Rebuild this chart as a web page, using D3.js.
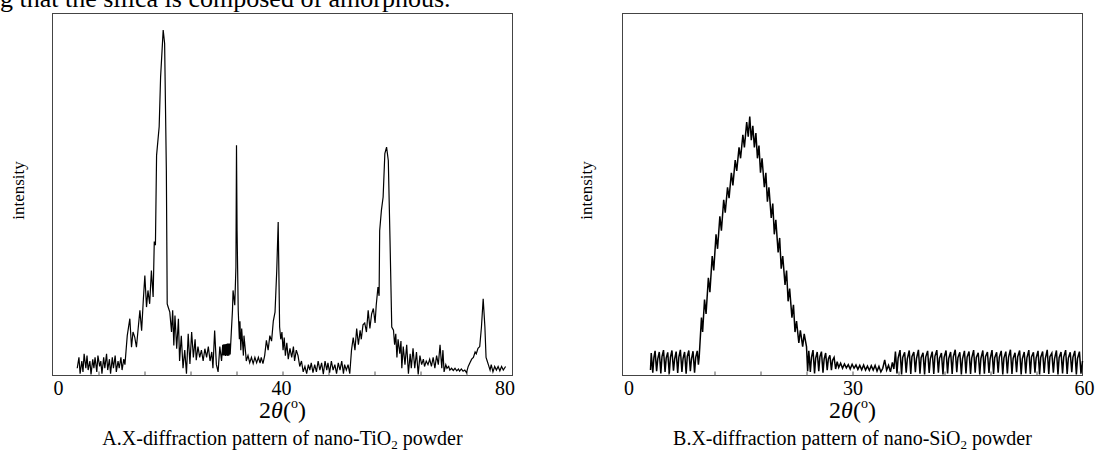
<!DOCTYPE html>
<html>
<head>
<meta charset="utf-8">
<script src="https://cdn.jsdelivr.net/npm/d3@7"></script>
<style>
  body { margin: 0; background: #fff; }
  svg { display: block; }
  text { font-family: 'Liberation Serif', 'Times New Roman', serif; fill: #000; }
</style>
</head>
<body>
<div class="graph"></div>
<script>
// 2theta (deg), intensity (arbitrary units, 0-100 = frame height)
const tio2Scan = [
  [4.3, 2], [4.6, 5], [4.8, 0.5], [5.1, 4], [5.3, 1], [5.5, 6], [5.8, 2], [6.0, 5.5],
  [6.2, 1.5], [6.5, 4], [6.7, 0.3], [7.0, 4.5], [7.2, 2], [7.4, 5], [7.7, 1], [7.9, 5.5],
  [8.2, 2.5], [8.4, 4], [8.6, 0.5], [8.9, 5], [9.1, 2], [9.4, 6], [9.6, 1.5], [9.9, 4.5],
  [10.1, 0.5], [10.4, 5], [10.6, 2], [10.9, 5.5], [11.1, 1], [11.4, 4], [11.6, 2], [11.9, 5],
  [12.1, 1.5], [12.4, 4.5], [12.6, 3], [13.0, 11], [13.45, 15.7], [13.74, 7.8], [14.0, 12],
  [14.3, 10.6], [14.6, 7.8], [14.9, 13], [15.2, 18], [15.5, 12.4], [15.8, 21], [16.06, 27.6],
  [16.35, 18.9], [16.6, 23.5], [16.9, 19.8], [17.2, 29], [17.5, 21.7], [17.7, 37], [17.9, 36],
  [18.1, 60.8], [18.55, 68.7], [18.8, 82.5], [19.25, 95.4], [19.5, 91.7], [19.8, 56.7],
  [19.95, 19.8], [20.1, 19], [20.4, 17.5], [20.7, 12], [20.9, 18], [21.1, 8.3], [21.3, 16.6],
  [21.6, 7.4], [21.9, 15.7], [22.1, 4], [22.4, 11], [22.7, 2], [23.0, 7], [23.3, 0.5],
  [23.6, 11.5], [23.9, 3.2], [24.2, 12], [24.5, 5], [24.8, 10], [25.0, 4.2], [25.3, 8],
  [25.6, 5], [25.9, 7], [26.2, 4], [26.5, 7.4], [26.8, 5], [27.1, 8], [27.4, 4], [27.7, 6.5],
  [27.9, 2], [28.2, 12.4], [28.5, 3], [28.8, 1], [29.1, 8], [29.4, 4], [29.6, 8.5], [29.7, 5.5],
  [29.8, 8.6], [29.9, 5.5], [30.0, 8.6], [30.1, 5.4], [30.2, 8.7], [30.3, 5.5], [30.4, 8.8],
  [30.5, 5.4], [30.6, 8.8], [30.7, 5.5], [30.8, 8.8], [30.9, 5.8], [31.1, 12], [31.3, 18],
  [31.4, 23.5], [31.7, 19.4], [31.9, 30], [32.0, 63.6], [32.1, 40], [32.3, 18], [32.5, 10],
  [32.6, 15], [32.75, 7], [32.9, 13], [33.2, 5.5], [33.3, 11], [33.6, 6], [33.7, 4], [34.0, 5.5],
  [34.3, 3.5], [34.6, 5], [34.9, 3.3], [35.2, 5], [35.5, 3.5], [35.8, 5], [36.1, 3.4], [36.3, 5],
  [36.6, 3.3], [36.9, 5.5], [37.2, 9.7], [37.5, 7], [37.8, 11], [38.1, 9.5], [38.4, 15],
  [38.7, 17.5], [39.0, 29], [39.25, 42.4], [39.4, 25], [39.5, 13.4], [39.7, 10], [39.9, 12],
  [40.1, 7], [40.3, 10.5], [40.5, 5.5], [40.75, 9], [41.0, 4.5], [41.3, 7.5], [41.6, 5],
  [41.9, 8], [42.1, 4], [42.4, 7], [42.7, 5.5], [43.0, 2.5], [43.3, 4], [43.6, 1], [43.9, 2.5],
  [44.2, 0.5], [44.5, 3], [44.75, 1.5], [45.0, 3.5], [45.3, 0.8], [45.6, 3], [45.9, 1],
  [46.2, 4], [46.5, 1.5], [46.8, 3.5], [47.1, 0.4], [47.4, 4], [47.7, 1.5], [47.9, 3.5],
  [48.2, 0.8], [48.5, 4], [48.8, 1.5], [49.1, 3], [49.4, 0.5], [49.7, 3.5], [50.0, 1.5],
  [50.3, 4], [50.6, 0.5], [50.8, 3], [51.1, 1.5], [51.4, 3], [51.7, 0.5], [52.0, 7],
  [52.3, 10.5], [52.6, 7], [52.9, 13], [53.2, 8.5], [53.5, 12.5], [53.7, 10], [54.0, 14],
  [54.3, 14.5], [54.6, 12], [54.9, 18], [55.2, 13], [55.5, 17], [55.8, 18.5], [56.1, 14.5],
  [56.3, 19.4], [56.6, 24.4], [56.8, 22], [56.9, 40], [57.2, 45.6], [57.5, 49.3], [57.8, 61.3],
  [58.1, 63.1], [58.4, 59.4], [58.7, 37.3], [59.0, 13.4], [59.3, 12.5], [59.5, 8.5],
  [59.7, 11.5], [59.9, 5], [60.1, 10], [60.4, 6], [60.6, 9.5], [60.75, 2], [61.0, 8], [61.3, 3],
  [61.6, 8.5], [61.9, 0.5], [62.2, 6], [62.4, 2], [62.7, 7.5], [63.0, 2], [63.3, 6.5],
  [63.6, 0.3], [63.9, 5.5], [64.2, 3], [64.5, 4.5], [64.7, 2.5], [65.0, 4], [65.3, 3],
  [65.6, 4.5], [65.9, 2.5], [66.2, 5], [66.5, 2], [66.8, 5.5], [67.1, 3], [67.4, 8.5], [67.7, 2],
  [67.9, 7], [68.1, 1], [68.4, 3], [68.6, 2], [68.9, 2.5], [69.1, 1.5], [69.4, 2], [69.7, 1.4],
  [70.0, 2], [70.3, 1.3], [70.6, 1.8], [70.8, 1.2], [71.1, 1.8], [71.4, 1.2], [71.7, 1.5],
  [72.0, 0.8], [72.3, 2.5], [72.6, 3.5], [72.9, 4.5], [73.2, 5], [73.5, 6.5], [73.7, 6],
  [74.0, 7.5], [74.3, 8], [74.6, 13.4], [74.9, 21.2], [75.2, 13.4], [75.4, 5], [75.6, 4],
  [75.8, 3], [76.1, 1.5], [76.3, 3], [76.6, 1], [76.9, 2.5], [77.2, 1.5], [77.5, 2.5],
  [77.8, 1.3], [78.1, 2.5], [78.4, 1.5], [78.8, 2.5]
]

const sio2Scan = [
  [3.65, 1.5], [3.75, 6.2], [3.95, 0.8], [4.1, 5.0], [4.25, 6.8], [4.45, 1.2], [4.6, 4.6],
  [4.8, 6.5], [5.0, 0.6], [5.15, 5.2], [5.35, 7.0], [5.55, 1.0], [5.7, 4.8], [5.9, 6.4],
  [6.1, 0.5], [6.25, 5.0], [6.45, 6.9], [6.65, 1.3], [6.8, 4.5], [7.0, 6.6], [7.2, 0.7],
  [7.35, 5.1], [7.55, 7.1], [7.75, 1.0], [7.9, 4.7], [8.1, 6.5], [8.3, 0.5], [8.45, 5.3],
  [8.65, 6.9], [8.85, 1.2], [9.0, 4.6], [9.2, 6.7], [9.4, 0.8], [9.55, 5.0], [9.75, 6.8],
  [9.9, 3.0], [10.0, 5], [10.3, 16], [10.45, 12], [10.7, 21], [10.9, 17], [11.2, 27],
  [11.4, 23], [11.7, 33], [11.9, 29], [12.2, 39], [12.4, 35], [12.7, 44], [12.9, 40],
  [13.2, 48.5], [13.4, 45], [13.7, 52], [13.9, 49], [14.2, 56], [14.4, 52.5], [14.7, 59.5],
  [14.9, 56.5], [15.2, 63], [15.4, 60], [15.7, 66.5], [15.9, 63], [16.2, 70], [16.4, 66],
  [16.6, 71.5], [16.8, 65], [17.0, 69], [17.2, 63], [17.4, 67], [17.6, 60], [17.8, 63.5],
  [18.0, 56], [18.2, 60], [18.5, 52], [18.7, 56], [18.9, 48], [19.1, 52], [19.4, 43.5],
  [19.6, 47.5], [19.8, 39], [20.0, 43], [20.3, 34], [20.5, 38], [20.7, 29.5], [20.9, 33],
  [21.2, 25], [21.4, 29], [21.6, 20.5], [21.8, 24], [22.1, 16], [22.3, 19.5], [22.5, 12],
  [22.7, 15], [23.0, 9], [23.2, 12.5], [23.5, 8], [23.7, 11.5], [24.0, 8], [24.15, 1.2],
  [24.3, 6.8], [24.5, 1.0], [24.65, 5.0], [24.85, 7.0], [25.05, 0.6], [25.2, 4.8], [25.4, 6.5],
  [25.6, 1.2], [25.75, 5.2], [25.95, 6.6], [26.15, 0.8], [26.3, 4.5], [26.5, 6.2], [26.7, 1.5],
  [26.85, 4.6], [27.05, 5.6], [27.25, 1.5], [27.4, 4.2], [27.6, 5.0], [27.8, 1.8], [28.0, 3.8],
  [28.2, 2.2], [28.45, 3.4], [28.7, 2.0], [28.95, 3.2], [29.2, 2.1], [29.45, 3.0], [29.7, 1.8],
  [29.95, 3.1], [30.2, 2.0], [30.45, 2.9], [30.7, 1.7], [30.95, 2.8], [31.2, 1.6], [31.45, 2.9],
  [31.7, 1.5], [31.95, 2.6], [32.2, 1.4], [32.45, 2.7], [32.7, 1.5], [32.95, 2.8], [33.2, 1.2],
  [33.45, 2.5], [33.7, 1.0], [33.95, 2.0], [34.2, 4.3], [34.45, 1.5], [34.7, 2.8], [34.95, 1.0],
  [35.2, 3.6], [35.4, 1.8],
  [35.6, 6.6], [35.8, 0.6], [35.95, 4.8], [36.2, 7.0], [36.4, 0.3], [36.55, 5.0],
  [36.8, 6.4], [37.0, 0.8], [37.15, 4.6], [37.4, 6.9], [37.6, 0.4], [37.75, 5.2],
  [38.0, 6.5], [38.2, 0.9], [38.35, 4.7], [38.6, 7.1], [38.8, 0.5], [38.95, 4.9],
  [39.2, 6.3], [39.4, 0.3], [39.55, 5.1], [39.8, 6.8], [40.0, 0.7], [40.15, 4.6],
  [40.4, 6.6], [40.6, 0.4], [40.75, 5.3], [41.0, 7.0], [41.2, 0.8], [41.35, 4.8],
  [41.6, 6.2], [41.8, 0.3], [41.95, 5.0], [42.2, 6.9], [42.4, 0.6], [42.55, 4.7],
  [42.8, 6.5], [43.0, 0.4], [43.15, 5.2], [43.4, 7.1], [43.6, 0.9], [43.75, 4.9],
  [44.0, 6.4], [44.2, 0.3], [44.35, 4.6], [44.6, 6.8], [44.8, 0.6], [44.95, 5.1],
  [45.2, 6.6], [45.4, 0.4], [45.55, 4.8], [45.8, 7.0], [46.0, 0.8], [46.15, 5.0],
  [46.4, 6.3], [46.6, 0.3], [46.75, 4.7], [47.0, 6.9], [47.2, 0.5], [47.35, 5.2],
  [47.6, 6.5], [47.8, 0.7], [47.95, 4.6], [48.2, 7.0], [48.4, 0.4], [48.55, 4.9],
  [48.8, 6.4], [49.0, 0.8], [49.15, 5.1], [49.4, 6.8], [49.6, 0.3], [49.75, 4.8],
  [50.0, 6.6], [50.2, 0.6], [50.35, 5.0], [50.6, 7.1], [50.8, 0.4], [50.95, 4.7],
  [51.2, 6.3], [51.4, 0.9], [51.55, 5.2], [51.8, 6.9], [52.0, 0.3], [52.15, 4.6],
  [52.4, 6.5], [52.6, 0.6], [52.75, 4.9], [53.0, 7.0], [53.2, 0.4], [53.35, 5.1],
  [53.6, 6.4], [53.8, 0.8], [53.95, 4.8], [54.2, 6.8], [54.4, 0.3], [54.55, 5.0],
  [54.8, 6.6], [55.0, 0.7], [55.15, 4.7], [55.4, 7.1], [55.6, 0.4], [55.75, 5.2],
  [56.0, 6.2], [56.2, 0.8], [56.35, 4.6], [56.6, 6.9], [56.8, 0.3], [56.95, 4.9],
  [57.2, 6.5], [57.4, 0.6], [57.55, 5.1], [57.8, 7.0], [58.0, 0.4], [58.15, 4.8],
  [58.4, 6.4], [58.6, 0.9], [58.75, 5.0], [59.0, 6.8], [59.2, 0.3], [59.35, 4.7],
  [59.6, 6.6], [59.8, 0.5], [60.0, 4.0]
]

const tio2TickLabels = [0, 40, 80]
const tio2MinorTicks = [8, 16, 24, 32, 40, 48, 56, 64, 72]
const sio2TickLabels = [0, 30, 60]
const sio2MinorTicks = [6, 12, 18, 24, 30, 36, 42, 48, 54]

const WIDTH = 1096
const HEIGHT = 450
const TOP = 13.5
const BOTTOM = 375.5

const svg = d3.select('.graph')
  .append('svg')
  .attr('width', WIDTH)
  .attr('height', HEIGHT)

// clipped sentence left over from the page above the figure
svg.append('text')
  .attr('x', 0)
  .attr('y', 7)
  .attr('font-size', 26)
  .text('g that the silica is composed of amorphous.')

/**
 * Draws one diffraction panel: frame, ticks, trace and labels.
 *
 * @param {object} p Panel settings
 */
function drawPanel (p) {
  const x = d3.scaleLinear().domain(p.domain).range([p.left, p.right])
  const y = d3.scaleLinear().domain([0, 100]).range([BOTTOM, TOP])
  const g = svg.append('g')

  g.append('rect')
    .attr('x', p.left)
    .attr('y', TOP)
    .attr('width', p.right - p.left)
    .attr('height', BOTTOM - TOP)
    .attr('fill', 'none')
    .attr('stroke', '#444')
    .attr('stroke-width', 1)

  // small inward ticks
  g.append('g')
    .attr('transform', `translate(0, ${BOTTOM})`)
    .call(d3.axisBottom(x).tickValues(p.minor).tickSize(-4).tickFormat(''))
    .call(a => a.select('.domain').remove())
    .selectAll('line')
    .attr('stroke', '#555')

  const labels = g.append('g')
    .attr('transform', `translate(0, ${BOTTOM})`)
    .call(d3.axisBottom(x).tickValues(p.ticks).tickSize(0).tickPadding(5))
  labels.select('.domain').remove()
  labels.selectAll('text')
    .attr('font-family', "'Liberation Serif', 'Times New Roman', serif")
    .attr('font-size', 20)
    .attr('fill', '#000')
    .attr('dx', (d, i) => p.labelDx[i])

  const line = d3.line()
    .x(d => x(d[0]))
    .y(d => y(d[1]))

  g.append('path')
    .datum(p.data)
    .attr('d', line)
    .attr('fill', 'none')
    .attr('stroke', '#000')
    .attr('stroke-width', p.lineWidth)
    .attr('stroke-linejoin', 'miter')

  const mid = (p.left + p.right) / 2

  const title = g.append('text')
    .attr('x', mid)
    .attr('y', 418)
    .attr('text-anchor', 'middle')
    .attr('font-size', 24)
  title.append('tspan').text('2')
  title.append('tspan').attr('font-style', 'italic').text('θ')
  title.append('tspan').text('(')
  title.append('tspan').attr('font-size', 14).attr('dy', -10).text('o')
  title.append('tspan').attr('dy', 10).text(')')

  const caption = g.append('text')
    .attr('x', mid)
    .attr('y', 445)
    .attr('text-anchor', 'middle')
    .attr('font-size', 20)
  caption.append('tspan').text(p.caption[0])
  caption.append('tspan').attr('font-size', 13).attr('dy', 4).text('2')
  caption.append('tspan').attr('dy', -4).text(p.caption[1])

  g.append('text')
    .attr('transform', `translate(${p.yLabelX}, ${(TOP + BOTTOM) / 2 - 4}) rotate(-90)`)
    .attr('text-anchor', 'middle')
    .attr('font-size', 17)
    .text('intensity')
}

drawPanel({
  domain: [0, 80],
  left: 52.5,
  right: 512.5,
  ticks: tio2TickLabels,
  minor: tio2MinorTicks,
  labelDx: [5.5, -1.5, -8],
  data: tio2Scan,
  lineWidth: 1.2,
  caption: ['A.X-diffraction pattern of nano-TiO', ' powder'],
  yLabelX: 24
})

drawPanel({
  domain: [0, 60],
  left: 622.5,
  right: 1082.5,
  ticks: sio2TickLabels,
  minor: sio2MinorTicks,
  labelDx: [6, 0, 1.5],
  data: sio2Scan,
  lineWidth: 1.5,
  caption: ['B.X-diffraction pattern of nano-SiO', ' powder'],
  yLabelX: 592
})
</script>
</body>
</html>
